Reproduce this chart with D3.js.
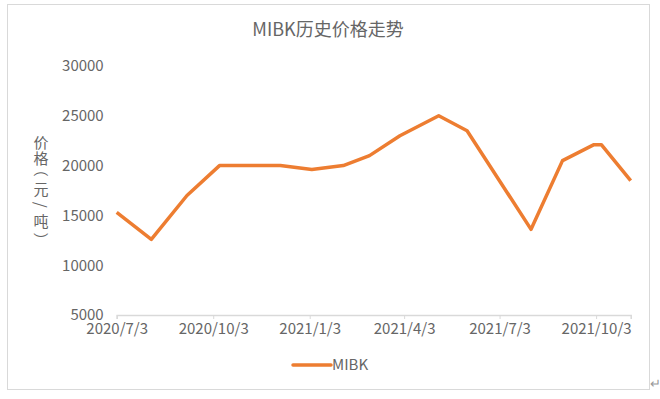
<!DOCTYPE html>
<html>
<head>
<meta charset="utf-8">
<script src="https://cdn.jsdelivr.net/npm/d3@7"></script>
<style>
  body { margin: 0; background: #fff; }
  text { font-family: "Noto Sans CJK SC", "Noto Sans", sans-serif; fill: #666; }
</style>
</head>
<body>
<div class="svg-container"></div>
<script>
// data
const dates = ['2020/7/3', '2020/8/5', '2020/9/8', '2020/10/9', '2020/12/6', '2021/1/5',
  '2021/2/4', '2021/3/1', '2021/3/30', '2021/5/6', '2021/6/2', '2021/8/2',
  '2021/9/1', '2021/10/1', '2021/10/8', '2021/11/5'];
const prices = [15300, 12600, 17000, 20000, 20000, 19600, 20000, 21000, 23000, 25000,
  23500, 13600, 20500, 22100, 22100, 18500];
const xTickLabels = ['2020/7/3', '2020/10/3', '2021/1/3', '2021/4/3', '2021/7/3', '2021/10/3'];
const yTicks = [5000, 10000, 15000, 20000, 25000, 30000];
const seriesName = 'MIBK';
const title = 'MIBK历史价格走势';
const yTitle = '价格（元/吨）';

const width = 660;
const height = 399;
const margin = { top: 66, right: 29.3, bottom: 84, left: 116.7 };
const orange = '#ED7D31';

const parse = d3.timeParse('%Y/%m/%d');
const data = dates.map((d, i) => ({ date: parse(d), value: prices[i] }));

const svg = d3.select('.svg-container')
  .append('svg')
  .attr('width', width)
  .attr('height', height);

// chart frame
svg.append('rect')
  .attr('x', 7.5)
  .attr('y', 4.5)
  .attr('width', 642)
  .attr('height', 385)
  .attr('fill', 'none')
  .attr('stroke', '#d9d9d9');

const x = d3.scaleTime()
  .domain(d3.extent(data, d => d.date))
  .range([margin.left, width - margin.right]);

const y = d3.scaleLinear()
  .domain([5000, 30000])
  .range([height - margin.bottom, margin.top]);

// x axis
const xAxis = svg.append('g')
  .attr('transform', `translate(0,${height - margin.bottom})`)
  .call(d3.axisBottom(x)
    .tickValues(xTickLabels.map(parse))
    .tickSize(4)
    .tickFormat((d, i) => xTickLabels[i]));
xAxis.select('.domain').attr('stroke', '#d9d9d9').attr('stroke-width', 1.5);
xAxis.selectAll('.tick line').attr('stroke', '#d9d9d9');
xAxis.selectAll('.tick text')
  .attr('dy', '1em')
  .attr('y', 4)
  .style('font-size', '15px');

// y axis (labels only)
const yAxis = svg.append('g')
  .attr('transform', `translate(${margin.left - 13},0)`)
  .call(d3.axisLeft(y).tickValues(yTicks).tickSize(0).tickPadding(0).tickFormat(d3.format('d')));
yAxis.select('.domain').remove();
yAxis.selectAll('.tick text').style('font-size', '15px');

// line
const line = d3.line()
  .x(d => x(d.date))
  .y(d => y(d.value));

svg.append('path')
  .datum(data)
  .attr('d', line)
  .attr('fill', 'none')
  .attr('stroke', orange)
  .attr('stroke-width', 3.5)
  .attr('stroke-linejoin', 'round');

// title
svg.append('text')
  .attr('x', 328)
  .attr('y', 36)
  .attr('text-anchor', 'middle')
  .style('font-size', '18px')
  .text(title);

// stacked y axis title, brackets and slash turned like vertical text
const rotated = '（）/';
svg.append('g')
  .selectAll('text')
  .data(Array.from(yTitle))
  .enter()
  .append('text')
  .attr('transform', (d, i) => {
    const cy = 141.5 + i * 15.8;
    return rotated.includes(d) ? `translate(41,${cy}) rotate(90)` : `translate(41,${cy})`;
  })
  .attr('dx', d => d === '（' ? '-0.25em' : d === '）' ? '0.25em' : 0)
  .attr('text-anchor', 'middle')
  .attr('dominant-baseline', 'central')
  .style('font-size', '15px')
  .text(d => d);

// legend
const legend = svg.append('g').attr('transform', 'translate(293,365)');
legend.append('line')
  .attr('x1', 0)
  .attr('x2', 38)
  .attr('stroke', orange)
  .attr('stroke-width', 3.5)
  .attr('stroke-linecap', 'round');
legend.append('text')
  .attr('x', 39)
  .attr('dy', '0.35em')
  .style('font-size', '15px')
  .text(seriesName);

// paragraph mark next to the frame
svg.append('text')
  .attr('x', 650)
  .attr('y', 388)
  .style('font-size', '13px')
  .style('fill', '#999')
  .text('↵');
</script>
</body>
</html>
